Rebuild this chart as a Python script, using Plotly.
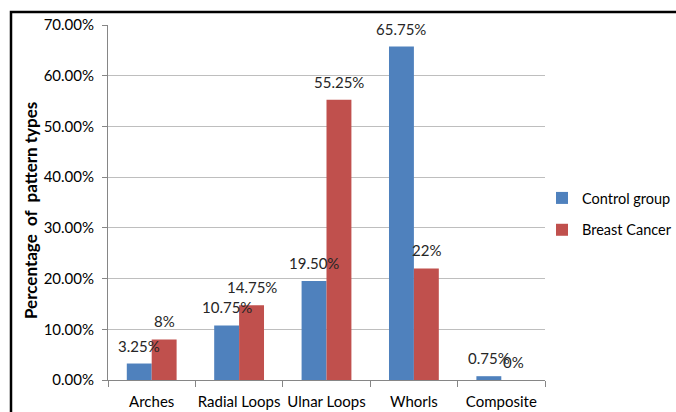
import plotly.graph_objects as go

# Fingerprint pattern distribution (fraction of subjects)
categories = ["Arches", "Radial Loops", "Ulnar Loops", "Whorls", "Composite"]
control_values = [0.0325, 0.1075, 0.195, 0.6575, 0.0075]
cancer_values = [0.08, 0.1475, 0.5525, 0.22, 0.0]
control_labels = ["3.25%", "10.75%", "19.50%", "65.75%", "0.75%"]
cancer_labels = ["8%", "14.75%", "55.25%", "22%", "0%"]

FONT = "Lato, 'Open Sans', sans-serif"
FS = 15
BLUE = "#4F81BD"
RED = "#C0504D"

W, H = 676, 412
L, R, T, B = 108, 131, 25, 32
pw, ph = W - L - R, H - T - B
BARGAP = 0.43
# half of one bar's width in pixels (two bars per category)
bar_half = pw / len(categories) * (1 - BARGAP) / 4


def px_x(x):
    return (x - L) / pw


def px_y(y):
    return (H - B - y) / ph


fig = go.Figure()
series = [
    ("Control group", control_values, control_labels, BLUE, -bar_half),
    ("Breast Cancer", cancer_values, cancer_labels, RED, bar_half),
]
annotations = []
for name, vals, labels, color, shift in series:
    fig.add_trace(go.Bar(
        name=name, x=categories, y=vals, legendgroup=name,
        marker=dict(color=color, line=dict(width=0)),
    ))
    # value labels drawn above every bar (on top of all bars)
    for cat, v, lab in zip(categories, vals, labels):
        annotations.append(dict(
            x=cat, y=v, xref="x", yref="y", text=lab, showarrow=False,
            xanchor="center", yanchor="bottom", xshift=shift, yshift=7,
            font=dict(family=FONT, size=FS, color="#262626"),
        ))

annotations.append(dict(
    text="<b>Percentage  of  pattern types</b>",
    xref="paper", yref="paper", x=px_x(30), y=px_y(211),
    xanchor="center", yanchor="middle", textangle=-90, showarrow=False,
    font=dict(family=FONT, size=17, color="black"),
))

fig.update_layout(
    width=W, height=H,
    margin=dict(l=L, r=R, t=T, b=B, pad=0, autoexpand=False),
    paper_bgcolor="white", plot_bgcolor="white",
    barmode="group", bargap=BARGAP, bargroupgap=0,
    font=dict(family=FONT, size=FS, color="black"),
    showlegend=True,
    legend=dict(x=px_x(542), y=px_y(214), xanchor="left", yanchor="middle",
                font=dict(family=FONT, size=14.5, color="black"),
                itemwidth=30, tracegroupgap=10, bgcolor="rgba(0,0,0,0)"),
    shapes=[dict(type="path", xref="paper", yref="paper",
                 path=f"M {px_x(11)} {px_y(420)} L {px_x(11)} {px_y(12)} L {px_x(680)} {px_y(12)}",
                 line=dict(color="black", width=2.5))],
    annotations=annotations,
)

fig.update_xaxes(
    showline=True, linecolor="#868686", linewidth=1,
    ticks="outside", tickson="boundaries", ticklen=6, tickcolor="#868686",
    tickangle=0, automargin=False, ticklabelstandoff=8,
    tickfont=dict(family=FONT, size=FS, color="black"),
    showgrid=False,
)
fig.update_yaxes(
    range=[0, 0.7], dtick=0.1, tickformat=".2%",
    showline=True, linecolor="#868686", linewidth=1,
    ticks="outside", ticklen=5, tickcolor="#868686", ticklabelstandoff=5,
    gridcolor="#BEBEBE", gridwidth=1, automargin=False,
    tickfont=dict(family=FONT, size=FS, color="black"),
    zeroline=False,
)

fig.write_html("out.html")
